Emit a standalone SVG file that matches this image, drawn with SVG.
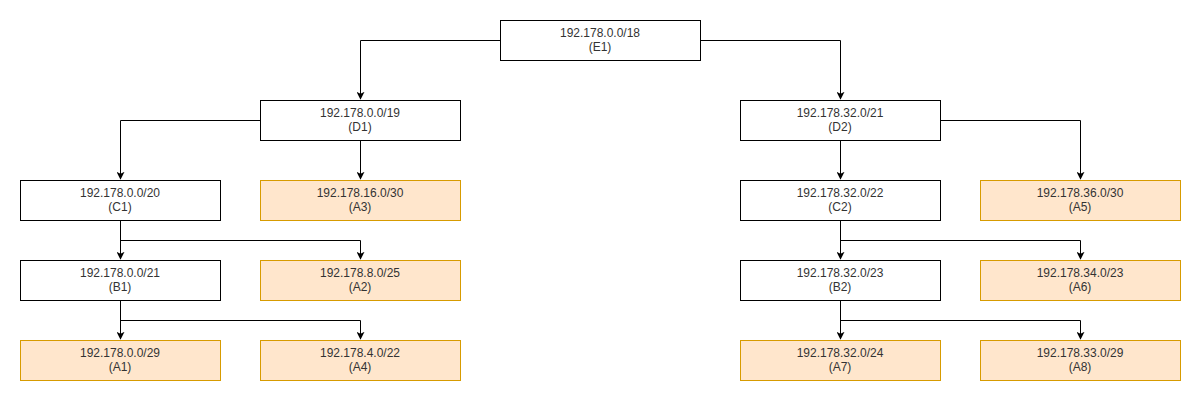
<svg xmlns="http://www.w3.org/2000/svg" width="1201" height="402" viewBox="0 0 1201 402">
<defs>
<style>
.n{fill:#ffffff;stroke:#000000;stroke-width:1}
.a{fill:#ffe6cc;stroke:#d79b00;stroke-width:1}
.t{font-family:"Liberation Sans",Arial,sans-serif;font-size:12px;fill:#333333;text-anchor:middle}
.e{fill:none;stroke:#000000;stroke-width:1}
</style>
<marker id="arr" viewBox="0 0 10 10" refX="9" refY="5" markerWidth="8" markerHeight="8" markerUnits="userSpaceOnUse" orient="auto">
<path d="M0,0 L10,5 L0,10 L2.5,5 Z" fill="#000000"/>
</marker>
</defs>
<rect width="1201" height="402" fill="#ffffff"/>
<g id="connectors">
<path class="e" d="M500.5,40.5 H360.5 V99" marker-end="url(#arr)"/>
<path class="e" d="M700.5,40.5 H840.5 V99" marker-end="url(#arr)"/>
<path class="e" d="M260.5,120.5 H120.5 V179" marker-end="url(#arr)"/>
<path class="e" d="M360.5,140.5 V179" marker-end="url(#arr)"/>
<path class="e" d="M940.5,120.5 H1080.5 V179" marker-end="url(#arr)"/>
<path class="e" d="M840.5,140.5 V179" marker-end="url(#arr)"/>
<path class="e" d="M120.5,220.5 V259" marker-end="url(#arr)"/>
<path class="e" d="M120.5,240.5 H360.5 V259" marker-end="url(#arr)"/>
<path class="e" d="M840.5,220.5 V259" marker-end="url(#arr)"/>
<path class="e" d="M840.5,240.5 H1080.5 V259" marker-end="url(#arr)"/>
<path class="e" d="M120.5,300.5 V339" marker-end="url(#arr)"/>
<path class="e" d="M120.5,320.5 H360.5 V339" marker-end="url(#arr)"/>
<path class="e" d="M840.5,300.5 V339" marker-end="url(#arr)"/>
<path class="e" d="M840.5,320.5 H1080.5 V339" marker-end="url(#arr)"/>
</g>
<g id="E1"><rect class="n" x="500.5" y="20.5" width="200" height="40"/><text class="t" x="600" y="37">192.178.0.0/18</text><text class="t" x="600" y="51">(E1)</text></g>
<g id="D1"><rect class="n" x="260.5" y="100.5" width="200" height="40"/><text class="t" x="360" y="117">192.178.0.0/19</text><text class="t" x="360" y="131">(D1)</text></g>
<g id="D2"><rect class="n" x="740.5" y="100.5" width="200" height="40"/><text class="t" x="840" y="117">192.178.32.0/21</text><text class="t" x="840" y="131">(D2)</text></g>
<g id="C1"><rect class="n" x="20.5" y="180.5" width="200" height="40"/><text class="t" x="120" y="197">192.178.0.0/20</text><text class="t" x="120" y="211">(C1)</text></g>
<g id="A3"><rect class="a" x="260.5" y="180.5" width="200" height="40"/><text class="t" x="360" y="197">192.178.16.0/30</text><text class="t" x="360" y="211">(A3)</text></g>
<g id="C2"><rect class="n" x="740.5" y="180.5" width="200" height="40"/><text class="t" x="840" y="197">192.178.32.0/22</text><text class="t" x="840" y="211">(C2)</text></g>
<g id="A5"><rect class="a" x="980.5" y="180.5" width="200" height="40"/><text class="t" x="1080" y="197">192.178.36.0/30</text><text class="t" x="1080" y="211">(A5)</text></g>
<g id="B1"><rect class="n" x="20.5" y="260.5" width="200" height="40"/><text class="t" x="120" y="277">192.178.0.0/21</text><text class="t" x="120" y="291">(B1)</text></g>
<g id="A2"><rect class="a" x="260.5" y="260.5" width="200" height="40"/><text class="t" x="360" y="277">192.178.8.0/25</text><text class="t" x="360" y="291">(A2)</text></g>
<g id="B2"><rect class="n" x="740.5" y="260.5" width="200" height="40"/><text class="t" x="840" y="277">192.178.32.0/23</text><text class="t" x="840" y="291">(B2)</text></g>
<g id="A6"><rect class="a" x="980.5" y="260.5" width="200" height="40"/><text class="t" x="1080" y="277">192.178.34.0/23</text><text class="t" x="1080" y="291">(A6)</text></g>
<g id="A1"><rect class="a" x="20.5" y="340.5" width="200" height="40"/><text class="t" x="120" y="357">192.178.0.0/29</text><text class="t" x="120" y="371">(A1)</text></g>
<g id="A4"><rect class="a" x="260.5" y="340.5" width="200" height="40"/><text class="t" x="360" y="357">192.178.4.0/22</text><text class="t" x="360" y="371">(A4)</text></g>
<g id="A7"><rect class="a" x="740.5" y="340.5" width="200" height="40"/><text class="t" x="840" y="357">192.178.32.0/24</text><text class="t" x="840" y="371">(A7)</text></g>
<g id="A8"><rect class="a" x="980.5" y="340.5" width="200" height="40"/><text class="t" x="1080" y="357">192.178.33.0/29</text><text class="t" x="1080" y="371">(A8)</text></g>
</svg>
